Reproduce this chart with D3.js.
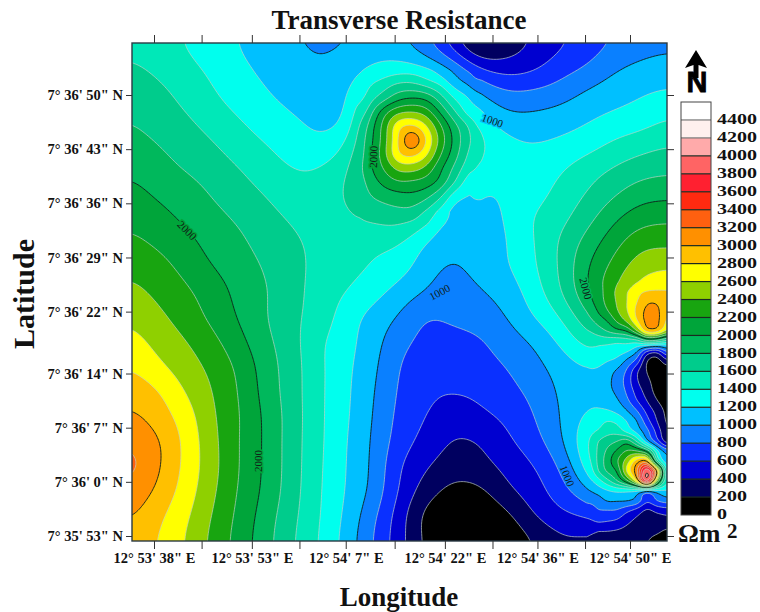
<!DOCTYPE html>
<html><head><meta charset="utf-8">
<script src="https://cdnjs.cloudflare.com/ajax/libs/d3/7.8.5/d3.min.js"></script>
<style>html,body{margin:0;background:#fff}svg{display:block}text{font-family:"Liberation Serif",serif;font-weight:bold;fill:#111}</style>
</head><body><svg id="c" width="760" height="612"></svg>
<script>
const chartTitle = "Transverse Resistance", xTitle = "Longitude", yTitle = "Latitude";
// tick positions in arc-seconds past 12°53' (lon) and 7°36' (lat)
const lonTicks = [38,45.2,52.8,60,67,74.4,82,89.2,96,103.2,110];
const lonLabels = ["12° 53' 38\" E",null,"12° 53' 53\" E",null,"12° 54' 7\" E",null,"12° 54' 22\" E",null,"12° 54' 36\" E",null,"12° 54' 50\" E"];
const latTicks = [50,43,36,29,22,14,7,0,-7];
const latLabels = ["7° 36' 50\" N","7° 36' 43\" N","7° 36' 36\" N","7° 36' 29\" N","7° 36' 22\" N","7° 36' 14\" N","7° 36' 7\" N","7° 36' 0\" N","7° 35' 53\" N"];
const levels = d3.range(200,4600,200);
const legendValues = d3.range(0,4600,200);
const bandColors = ["#000000","#000060","#0000d0","#0a30ff","#0a80ff","#00c0ff","#00ffee","#00e8b8","#00cc8c","#00b85c","#00a53a","#18a510","#8fd000","#ffff00","#ffc000","#ff9000","#ff6010","#ff2a10","#ff2030","#ff6464","#ffaaaa","#fff0ee","#ffffff"];
// Ωm² on a regular lat/lon lattice, north to south
const surveyGrid = [
[1540,1470,1390,1300,1190,1110,1020,960,990,1070,1030,840,480,100,260,420,560,690,810,900,940],
[1630,1550,1450,1360,1240,1160,1100,1030,1110,1230,1280,1190,960,600,500,560,710,815,970,1050,1090],
[1730,1650,1540,1420,1300,1210,1130,1090,1170,1480,1790,1780,1300,1000,830,840,900,1030,1110,1180,1220],
[1785,1700,1620,1510,1400,1300,1215,1150,1190,1970,2400,2300,1760,1280,1060,1050,1100,1170,1240,1290,1390],
[1870,1790,1700,1610,1490,1395,1300,1230,1400,2000,2780,2780,1980,1460,1260,1200,1230,1300,1420,1500,1570],
[1960,1875,1780,1700,1600,1490,1395,1405,1560,2000,2400,2350,1850,1350,1260,1270,1370,1500,1605,1700,1745],
[2050,1960,1890,1780,1680,1585,1480,1470,1630,1800,2020,2030,1640,1210,1240,1310,1460,1600,1760,1900,1930],
[2150,2060,1960,1860,1770,1670,1570,1480,1570,1650,1700,1520,1100,1100,1220,1410,1530,1720,1950,2110,2150],
[2240,2160,2060,1930,1840,1720,1650,1530,1480,1440,1420,1190,1060,1080,1190,1390,1620,1870,2120,2330,2350],
[2350,2270,2140,2000,1900,1780,1655,1550,1465,1390,1290,1090,970,1090,1180,1370,1620,1980,2260,2520,2570],
[2450,2350,2240,2100,1945,1815,1665,1520,1400,1280,1120,990,880,980,1080,1300,1580,1980,2380,2700,2810],
[2560,2440,2310,2150,1980,1810,1640,1520,1300,1130,980,790,850,900,1000,1200,1400,1750,2170,2930,2850],
[2670,2530,2410,2260,2060,1850,1670,1430,1280,1080,870,740,720,770,900,1020,1230,1470,1520,1500,1400],
[2790,2640,2490,2350,2160,1900,1690,1440,1250,1050,800,650,680,730,800,930,1080,1200,1100,620,100],
[2915,2810,2590,2400,2190,1920,1690,1440,1240,1020,770,640,610,640,740,850,1030,1130,1030,400,50],
[3040,2900,2700,2430,2210,1960,1700,1440,1230,1000,740,600,490,560,640,790,1000,1230,1260,780,170],
[3170,3020,2750,2460,2200,1965,1690,1440,1210,980,700,530,380,400,560,720,960,1370,1800,1200,300],
[3270,3020,2750,2470,2200,1965,1690,1430,1200,970,610,420,300,340,450,590,820,1270,2050,3000,1200],
[3130,2950,2710,2440,2180,1950,1680,1420,1190,950,580,300,130,150,360,500,710,950,1200,1100,1180],
[3020,2840,2640,2390,2150,1900,1650,1410,1160,850,500,120,20,20,140,390,540,620,720,450,400],
[2910,2790,2590,2350,2120,1870,1620,1390,1125,800,480,150,0,0,40,190,350,330,310,260,60]];
// finer readings around the northern anomaly
const northAnomaly = [
[1150,1230,1290,1330,1340,1200,1070,930,780,610],
[1240,1380,1500,1620,1630,1530,1380,1130,990,780],
[1230,1510,1720,1930,2000,1950,1700,1390,1210,1040],
[1330,1720,2120,2350,2400,2300,1980,1640,1330,1190],
[1500,1880,2280,2730,2830,2620,2240,1880,1600,1300],
[1600,1930,2300,2800,3180,2800,2340,1950,1650,1430],
[1620,1960,2330,2770,2870,2650,2230,1900,1590,1350],
[1680,1960,2220,2460,2490,2350,2050,1770,1480,1310],
[1660,1880,2060,2180,2170,2110,1940,1620,1310,1240],
[1640,1790,1880,1930,1950,1860,1650,1310,1195,1195],
[1600,1680,1730,1770,1760,1610,1370,1150,1120,1120],
[1570,1610,1620,1620,1610,1360,1190,1110,1080,1080]];
// finer readings along the eastern edge
const eastAnomaly = [
[1980,2120,2250,2420,2530,2630,2660,2690,2700],
[1960,2100,2270,2440,2590,2730,2810,2820,2810],
[1950,2070,2260,2420,2600,2790,2960,2960,2850],
[1880,2000,2180,2380,2590,2850,3050,3060,2790],
[1740,1870,2000,2230,2440,2780,3060,3060,2760],
[1560,1680,1810,1930,2020,2400,2900,2900,2550],
[1470,1480,1480,1450,1480,1500,1750,1700,1500],
[1320,1330,1300,1290,1230,1030,600,500,850],
[1250,1270,1210,1150,950,720,200,100,350],
[1210,1170,1080,970,770,430,190,80,60],
[1160,1100,1040,930,710,420,250,110,50],
[1130,1080,1040,960,760,510,310,130,50],
[1170,1150,1100,1030,850,610,400,210,100],
[1200,1225,1220,1150,1010,810,540,330,150],
[1240,1300,1400,1350,1190,1000,680,400,170],
[1280,1400,1520,1510,1320,1120,860,530,220],
[1370,1580,1700,1790,1900,1550,1050,680,280],
[1340,1610,1830,2030,2220,2200,1950,1270,900],
[1300,1620,1890,2180,2500,2900,3000,1600,1050],
[1250,1560,1830,2020,2650,3150,4050,3030,1300],
[1130,1290,1530,1790,2150,2800,4000,2400,1400],
[960,1070,1170,1230,1220,1170,950,1100,1180],
[760,880,1010,1010,1010,930,640,800,880],
[670,780,780,770,630,500,350,440,480],
[570,630,610,570,450,350,300,300,330],
[400,400,400,380,340,300,270,240,170],
[330,330,320,310,300,270,210,120,60]];
// contour annotations: text, lon, lat (arc-seconds), angle
const contourLabels = [["1000",89.2,46.7,20],["1000",81.2,24.5,-28],["2000",71.2,42,-88],["2000",43,32.5,45],["2000",53.7,2.7,-90],["2000",103.3,25,75],["1000",100.5,0.8,68]];

const plot={l:132,r:667,t:43,b:541};
const svg=d3.select("#c");
const x=d3.scaleLinear().domain([38,110]).range([154,630]);
const y=d3.scaleLinear().domain([-7,50]).range([536,95]);

function catmull(p0,p1,p2,p3,t){return 0.5*(2*p1+(p2-p0)*t+(2*p0-5*p1+4*p2-p3)*t*t+(3*p1-p0-3*p2+p3)*t*t*t);}
function sample(g,u,v,clampLocal){
  const R=g.length,C=g[0].length;
  u=Math.max(0,Math.min(C-1,u));v=Math.max(0,Math.min(R-1,v));
  const i=Math.min(C-2,Math.floor(u)),j=Math.min(R-2,Math.floor(v)),tu=u-i,tv=v-j;
  const at=(a,b)=>g[Math.max(0,Math.min(R-1,b))][Math.max(0,Math.min(C-1,a))];
  const r=[];for(let b=-1;b<=2;b++)r.push(catmull(at(i-1,j+b),at(i,j+b),at(i+1,j+b),at(i+2,j+b),tu));
  const val=catmull(r[0],r[1],r[2],r[3],tv);
  if(!clampLocal)return val;
  const c=[at(i,j),at(i+1,j),at(i,j+1),at(i+1,j+1)];
  return Math.max(d3.min(c),Math.min(d3.max(c),val));
}
const clamp01=a=>Math.max(0,Math.min(1,a));
const step=1.5,margin=3;
const nx=Math.ceil((plot.r-plot.l+2*margin)/step)+1,ny=Math.ceil((plot.b-plot.t+2*margin)/step)+1;
const pxOf=i=>plot.l-margin+i*step,pyOf=j=>plot.t-margin+j*step;
function rasterOf(g,x0,x1,y0,y1,blurR,clampLocal){
  const d=new Float64Array(nx*ny);
  for(let j=0;j<ny;j++)for(let i=0;i<nx;i++)
    d[j*nx+i]=sample(g,(pxOf(i)-x0)/(x1-x0)*(g[0].length-1),(pyOf(j)-y0)/(y1-y0)*(g.length-1),clampLocal);
  d3.blur2({data:d,width:nx,height:ny},blurR);
  return d;
}
const raster=rasterOf(surveyGrid,plot.l,plot.r,plot.t,plot.b,6,false);
[{g:northAnomaly,x0:356,x1:482,y0:70,y1:224,edges:[1,1,1,1],b:2,c:false},
 {g:eastAnomaly,x0:587,x1:667,y0:281,y1:541,edges:[1,0,1,0],b:1,c:true}].forEach(p=>{
  const r=rasterOf(p.g,p.x0,p.x1,p.y0,p.y1,p.b,p.c),f=12;
  for(let j=0;j<ny;j++)for(let i=0;i<nx;i++){
    const px=pxOf(i),py=pyOf(j);
    const w=clamp01(Math.min(p.edges[0]?(px-p.x0)/f:1,p.edges[1]?(p.x1-px)/f:1,p.edges[2]?(py-p.y0)/f:1,p.edges[3]?(p.y1-py)/f:1));
    raster[j*nx+i]=raster[j*nx+i]*(1-w)+r[j*nx+i]*w;
  }
});
const fieldAt=(px,py)=>raster[Math.round((py-plot.t+margin)/step)*nx+Math.round((px-plot.l+margin)/step)];
const contourSet=d3.contours().size([nx,ny]).thresholds(levels)(Array.from(raster));
const proj=d3.geoTransform({point(a,b){this.stream.point(plot.l-margin+(a-0.5)*step,plot.t-margin+(b-0.5)*step);}});
const pathGen=d3.geoPath(proj);

const defs=svg.append("defs");
defs.append("clipPath").attr("id","pc").append("rect").attr("x",plot.l).attr("y",plot.t).attr("width",plot.r-plot.l).attr("height",plot.b-plot.t);
const mapG=svg.append("g").attr("clip-path","url(#pc)");
mapG.append("rect").attr("x",plot.l).attr("y",plot.t).attr("width",plot.r-plot.l).attr("height",plot.b-plot.t).attr("fill",bandColors[0]);
mapG.selectAll("path.f").data(contourSet).join("path").attr("class","f").attr("d",pathGen).attr("fill",(d,i)=>bandColors[i+1]);
mapG.selectAll("path.l").data(contourSet).join("path").attr("class","l").attr("d",pathGen).attr("fill","none")
  .attr("stroke",d=>d.value%1000===0?"#10201a":"#c4d2c8").attr("stroke-opacity",d=>d.value%1000===0?0.9:0.75).attr("stroke-width",d=>d.value%1000===0?1:0.9);

// contour labels
contourLabels.forEach(([t,lo,la,ang])=>{
  const px=x(lo),py=y(la),v=fieldAt(px,py);
  const idx=Math.max(0,Math.min(bandColors.length-1,Math.floor(v/200)));
  mapG.append("text").attr("transform",`translate(${px},${py}) rotate(${ang})`).attr("text-anchor","middle").attr("dy","0.35em")
    .style("font-size","11px").style("font-weight","normal").style("fill","#102018")
    .attr("stroke",bandColors[idx]).attr("stroke-width",3).attr("paint-order","stroke").text(t);
});

// frame
svg.append("rect").attr("x",plot.l).attr("y",plot.t).attr("width",plot.r-plot.l).attr("height",plot.b-plot.t).attr("fill","none").attr("stroke","#2a3a44").attr("stroke-width",1.4);

// axes
const axisB=d3.axisBottom(x).tickValues(lonTicks).tickSize(8).tickPadding(4).tickFormat((d,i)=>lonLabels[i]||"");
const axisT=d3.axisTop(x).tickValues(lonTicks).tickSize(8).tickFormat("");
const axisL=d3.axisLeft(y).tickValues(latTicks).tickSize(6).tickPadding(3).tickFormat((d,i)=>latLabels[i]);
const axisR=d3.axisRight(y).tickValues(latTicks).tickSize(7).tickFormat("");
[[axisB,`translate(0,${plot.b})`],[axisT,`translate(0,${plot.t})`],[axisL,`translate(${plot.l},0)`],[axisR,`translate(${plot.r},0)`]].forEach(([a,t])=>{
  const g=svg.append("g").attr("transform",t).call(a);
  g.select(".domain").remove();
  g.selectAll("line").attr("stroke","#333").attr("stroke-width",1);
  g.selectAll("text").attr("font-family",null).attr("font-size",null).style("font-size","14.5px").style("fill","#111");
});

// titles
svg.append("text").attr("x",399).attr("y",29).attr("text-anchor","middle").style("font-size","27px").text(chartTitle);
svg.append("text").attr("x",399).attr("y",606).attr("text-anchor","middle").style("font-size","27px").text(xTitle);
svg.append("text").attr("transform","translate(34,294) rotate(-90)").attr("text-anchor","middle").style("font-size","30px").text(yTitle);

// legend
const legY=d3.scaleLinear().domain([0,4600]).range([515,102]);
const leg=svg.append("g");
leg.selectAll("rect.b").data(legendValues).join("rect").attr("class","b").attr("x",681).attr("width",30)
  .attr("y",d=>legY(d+200)).attr("height",d=>legY(d)-legY(d+200)).attr("fill",(d,i)=>bandColors[i]);
leg.selectAll("line").data(legendValues.slice(1)).join("line").attr("x1",681).attr("x2",711).attr("y1",d=>legY(d)).attr("y2",d=>legY(d))
  .attr("stroke",d=>d>=4200?"#777":"#1a2a20").attr("stroke-width",1.2);
leg.append("rect").attr("x",681).attr("y",102).attr("width",30).attr("height",413).attr("fill","none").attr("stroke","#444").attr("stroke-width",1);
leg.selectAll("text").data(legendValues).join("text").attr("x",717).attr("y",d=>legY(d)-1).attr("dy","0.33em").style("font-size","15.5px")
  .attr("textLength",d=>String(d).length*10).attr("lengthAdjust","spacingAndGlyphs").text(d=>d);
svg.append("text").attr("x",678).attr("y",542).style("font-size","26px").text("Ωm");
svg.append("text").attr("x",727).attr("y",538).style("font-size","21px").text("2");

// north arrow
svg.append("path").attr("d","M696 50 L707 68 L698.5 65 L698.5 78 L693.5 78 L693.5 65 L685 68 Z").attr("fill","#000");
svg.append("text").attr("x",697).attr("y",92).attr("text-anchor","middle").style("font-family","'Liberation Sans'").style("font-size","29px").style("fill","#000").attr("stroke","#000").attr("stroke-width",0.8).text("N");
</script></body></html>
